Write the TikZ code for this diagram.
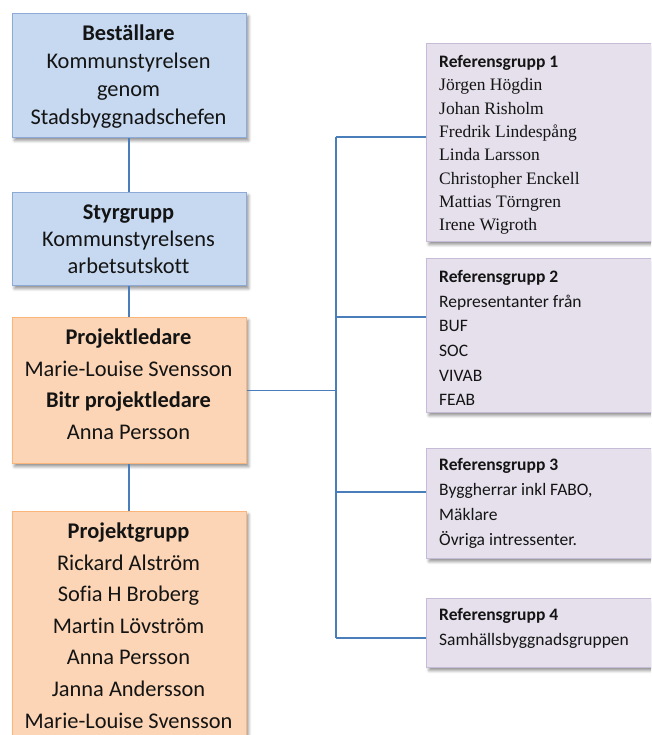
\documentclass[tikz,border=0pt]{standalone}
\usepackage{fontspec}
\setmainfont{Carlito}[Ligatures=NoCommon]
\newfontfamily\tnr{Liberation Serif}
\usetikzlibrary{shadows.blur}
\definecolor{bluefill}{HTML}{C6D9F1}
\definecolor{blueline}{HTML}{8DAAD6}
\definecolor{orfill}{HTML}{FBD5B5}
\definecolor{orline}{HTML}{F9B57A}
\definecolor{pufill}{HTML}{E5E0EC}
\definecolor{puline}{HTML}{C6BCD8}
\definecolor{connc}{HTML}{4A7EBB}
\definecolor{txt}{HTML}{141414}
\tikzset{
  box/.style={rectangle, inner sep=0pt, line width=1pt, anchor=north west,
    blur shadow={shadow xshift=2.5pt, shadow yshift=-3pt, shadow blur steps=6, shadow opacity=45, shadow blur radius=3pt}},
  bluebox/.style={box, fill=bluefill, draw=blueline},
  orbox/.style={box, fill=orfill, draw=orline},
  pubox/.style={box, fill=pufill, draw=puline},
  lefttxt/.style={anchor=north, inner sep=0pt, align=center, text=txt},
  righttxt/.style={anchor=north west, inner sep=0pt, align=left, text=txt},
  conn/.style={draw=connc, line width=1.3pt}
}
\begin{document}
\begin{tikzpicture}[x=1pt,y=-1pt]
\useasboundingbox (0,0) rectangle (651,735);
\clip (0,0) rectangle (651,735);
% left column boxes
\node[bluebox, minimum width=234pt, minimum height=124pt] (best) at (11.5,13) {};
\node[bluebox, minimum width=234pt, minimum height=93pt] (styr) at (11.5,192) {};
\node[orbox, minimum width=234pt, minimum height=146pt] (projL) at (11.5,317) {};
\node[orbox, minimum width=234pt, minimum height=245pt] (projG) at (11.5,511) {};
% right column boxes
\node[pubox, minimum width=240pt, minimum height=198pt] (rg1) at (426,43) {};
\node[pubox, minimum width=240pt, minimum height=154pt] (rg2) at (426,258) {};
\node[pubox, minimum width=240pt, minimum height=110pt] (rg3) at (426,448) {};
\node[pubox, minimum width=240pt, minimum height=69pt] (rg4) at (426,598) {};
% texts left
\node[lefttxt, font=\fontsize{22.4pt}{28pt}\selectfont] (bestT) at (128.5,24.5)
  {\textbf{Beställare}\\Kommunstyrelsen\\genom\\Stadsbyggnadschefen};
\node[lefttxt, font=\fontsize{22.4pt}{27pt}\selectfont] (styrT) at (128.5,204.5)
  {\textbf{Styrgrupp}\\Kommunstyrelsens\\arbetsutskott};
\node[lefttxt, font=\fontsize{22.4pt}{31.7pt}\selectfont] (projLT) at (128.5,328.5)
  {\textbf{Projektledare}\\Marie-Louise Svensson\\\textbf{Bitr projektledare}\\Anna Persson};
\node[lefttxt, font=\fontsize{22.4pt}{31.6pt}\selectfont] (projGT) at (128.5,522.5)
  {\textbf{Projektgrupp}\\Rickard Alström\\Sofia H Broberg\\Martin Lövström\\Anna Persson\\Janna Andersson\\Marie-Louise Svensson};
% texts right
\node[righttxt, font=\fontsize{17.5pt}{23.3pt}\selectfont] (rg1T) at (439,55.3)
  {\textbf{Referensgrupp 1}\\{\tnr Jörgen Högdin}\\{\tnr Johan Risholm}\\{\tnr Fredrik Lindespång}\\{\tnr Linda Larsson}\\{\tnr Christopher Enckell}\\{\tnr Mattias Törngren}\\{\tnr Irene Wigroth}};
\node[righttxt, font=\fontsize{17.5pt}{24.6pt}\selectfont] (rg2T) at (439,270.3)
  {\textbf{Referensgrupp 2}\\Representanter från\\BUF\\SOC\\VIVAB\\FEAB};
\node[righttxt, font=\fontsize{17.5pt}{25pt}\selectfont] (rg3T) at (439,458.3)
  {\textbf{Referensgrupp 3}\\Byggherrar inkl FABO,\\Mäklare\\Övriga intressenter.};
\node[righttxt, font=\fontsize{17.5pt}{25pt}\selectfont] (rg4T) at (439,608.3)
  {\textbf{Referensgrupp 4}\\Samhällsbyggnadsgruppen};
% connectors
\coordinate (t1) at (336,137);
\coordinate (t2) at (336,317);
\coordinate (t3) at (336,492);
\coordinate (t4) at (336,638);
\draw[conn] (best.south) -- (styr.north);
\draw[conn] (styr.south) -- (projL.north);
\draw[conn] (projL.south) -- (projG.north);
\draw[conn] (projL.east) -- (projL.east -| t1);
\draw[conn] (t1) -- (t4);
\draw[conn] (t1) -- (t1 -| rg1.west);
\draw[conn] (t2) -- (t2 -| rg2.west);
\draw[conn] (t3) -- (t3 -| rg3.west);
\draw[conn] (t4) -- (t4 -| rg4.west);
\end{tikzpicture}
\end{document}
